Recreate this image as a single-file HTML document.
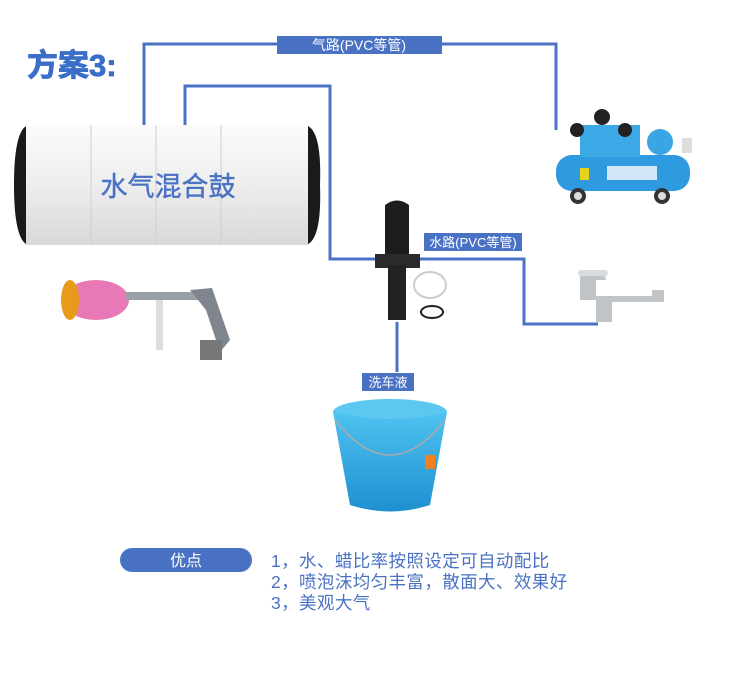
<!DOCTYPE html>
<html><head><meta charset="utf-8"><style>
body{margin:0;background:#fff;}
svg{display:block;font-family:"Liberation Sans","Noto Sans CJK SC",sans-serif;}
</style></head><body>
<svg width="750" height="690" viewBox="0 0 750 690" xmlns="http://www.w3.org/2000/svg">
<defs>
<linearGradient id="drum" x1="0" y1="0" x2="0" y2="1"><stop offset="0" stop-color="#fbfbfb"/><stop offset="0.5" stop-color="#eeeeee"/><stop offset="1" stop-color="#d8d8d8"/></linearGradient>
<linearGradient id="bk" x1="0" y1="0" x2="0" y2="1"><stop offset="0" stop-color="#4fc3f0"/><stop offset="1" stop-color="#1f8fd0"/></linearGradient>
</defs>
<text x="27" y="76" font-size="31" font-weight="bold" fill="#3a6ec8" stroke="#3a6ec8" stroke-width="0.8">方案3:</text>
<!-- air line -->
<polyline points="144,128 144,44 556,44 556,130" fill="none" stroke="#4a72c4" stroke-width="3"/>
<rect x="277" y="36" width="165" height="18" fill="#4a72c4"/>
<text x="359" y="50" font-size="14" fill="#fff" text-anchor="middle">气路(PVC等管)</text>
<!-- water line -->
<polyline points="185,128 185,86 330,86 330,259 524,259 524,324 598,324" fill="none" stroke="#4a72c4" stroke-width="3"/>
<rect x="424" y="233" width="98" height="18" fill="#4a72c4"/>
<text x="473" y="247" font-size="13" fill="#fff" text-anchor="middle">水路(PVC等管)</text>
<!-- soap line -->
<line x1="397" y1="322" x2="397" y2="372" stroke="#4a72c4" stroke-width="3"/>
<rect x="362" y="373" width="52" height="18" fill="#4a72c4"/>
<text x="388" y="387" font-size="13" fill="#fff" text-anchor="middle">洗车液</text>
<!-- drum -->
<path d="M28,125 H306 Q322,130 320,185 Q322,240 306,245 H28 Q14,240 14,185 Q14,130 28,125Z" fill="#1a1a1a"/>
<rect x="26" y="125" width="282" height="120" fill="url(#drum)"/>
<g stroke="#cfcfcf" stroke-width="1"><line x1="91" y1="125" x2="91" y2="245"/><line x1="156" y1="125" x2="156" y2="245"/><line x1="221" y1="125" x2="221" y2="245"/></g>
<text x="168" y="196" font-size="27" fill="#4a72c4" text-anchor="middle" stroke="#4a72c4" stroke-width="0.4">水气混合鼓</text>
<!-- compressor -->
<rect x="556" y="155" width="134" height="36" rx="16" fill="#2e9be0"/>
<rect x="580" y="125" width="60" height="32" fill="#3da8e6"/>
<circle cx="577" cy="130" r="7" fill="#222"/><circle cx="602" cy="117" r="8" fill="#222"/><circle cx="625" cy="130" r="7" fill="#222"/>
<circle cx="660" cy="142" r="13" fill="#3aa5e4"/>
<rect x="682" y="138" width="10" height="15" fill="#ddd"/>
<circle cx="578" cy="196" r="8" fill="#333"/><circle cx="578" cy="196" r="4" fill="#ddd"/>
<circle cx="662" cy="196" r="8" fill="#333"/><circle cx="662" cy="196" r="4" fill="#ddd"/>
<rect x="580" y="168" width="9" height="12" fill="#e8d21b"/>
<rect x="607" y="166" width="50" height="14" fill="#cfe7f7"/>
<!-- injector -->
<path d="M385,205 Q397,196 409,205 L409,258 L385,258Z" fill="#1d1d1d"/>
<rect x="375" y="254" width="45" height="14" fill="#2a2a2a"/>
<rect x="388" y="265" width="18" height="55" fill="#222"/>
<ellipse cx="430" cy="285" rx="16" ry="13" fill="none" stroke="#ccc" stroke-width="2"/>
<ellipse cx="432" cy="312" rx="11" ry="6" fill="none" stroke="#222" stroke-width="2"/>
<!-- faucet -->
<path d="M580,272 H604 L606,280 H596 V296 H652 V290 H664 V302 H612 V322 H596 V300 L580,300Z" fill="#bfc4c9"/>
<rect x="578" y="270" width="30" height="6" rx="3" fill="#d8dbe0"/>
<!-- gun -->
<ellipse cx="96" cy="300" rx="33" ry="20" fill="#e77ab6"/>
<ellipse cx="70" cy="300" rx="9" ry="20" fill="#e89a1a"/>
<rect x="125" y="292" width="80" height="8" fill="#9aa0a6"/>
<path d="M190,290 L212,288 L230,340 L220,352 L206,310Z" fill="#7e858c"/>
<rect x="156" y="300" width="7" height="50" fill="#ddd"/>
<rect x="200" y="340" width="22" height="20" fill="#777"/>
<!-- bucket -->
<ellipse cx="390" cy="412" rx="57" ry="13" fill="#5cc8f2"/>
<path d="M333,412 L350,505 Q390,518 430,505 L447,412 Q390,426 333,412Z" fill="url(#bk)"/>
<path d="M335,420 Q390,490 445,420" fill="none" stroke="#aaa" stroke-width="1.5"/>
<rect x="425" y="455" width="10" height="14" fill="#f08020"/>
<!-- advantages -->
<rect x="120" y="548" width="132" height="24" rx="12" fill="#4a72c4"/>
<text x="186" y="566" font-size="16" fill="#fff" text-anchor="middle">优点</text>
<g font-size="17.5" fill="#4a72c4" letter-spacing="0.4">
<text x="271" y="567">1，水、蜡比率按照设定可自动配比</text>
<text x="271" y="588">2，喷泡沫均匀丰富，散面大、效果好</text>
<text x="271" y="609">3，美观大气</text>
</g>
</svg>
</body></html>
